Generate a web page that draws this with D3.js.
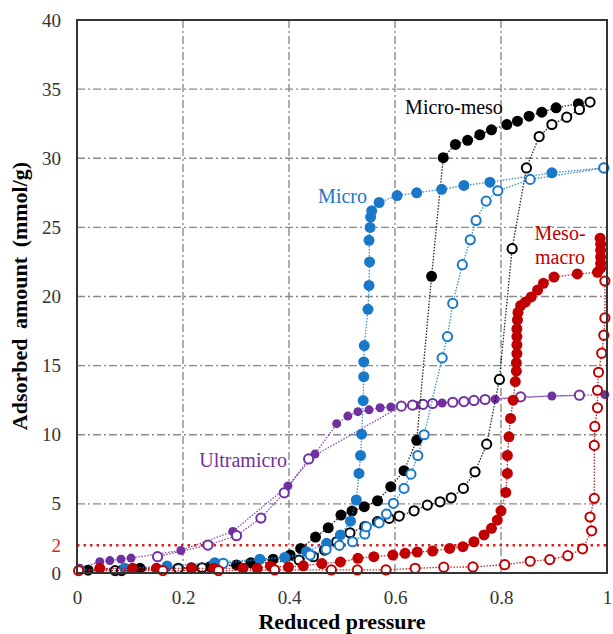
<!DOCTYPE html>
<html>
<head>
<meta charset="utf-8">
<script src="https://cdn.jsdelivr.net/npm/d3@7"></script>
<style>
  body { margin: 0; background: #fff; }
  text { font-family: "Liberation Serif", "Times New Roman", serif; }
</style>
</head>
<body>
<svg width="613" height="634"></svg>
<script>
// Reduced pressure / adsorbed amount (mmol/g)
const ultraAds = [[0.005,0.35],[0.043,0.82],[0.062,0.9],[0.083,1.0],[0.102,1.08],[0.196,1.63],[0.294,3.0],[0.398,6.3],[0.449,8.6],[0.49,10.8],[0.511,11.35],[0.53,11.67],[0.551,11.8],[0.572,11.95],[0.592,12.0],[0.639,12.14],[0.689,12.3],[0.789,12.57],[0.896,12.8],[0.996,12.9]];
const ultraDes = [[0.152,1.18],[0.247,2.02],[0.301,2.7],[0.347,3.97],[0.391,5.8],[0.437,8.25],[0.612,12.07],[0.633,12.14],[0.653,12.2],[0.671,12.26],[0.709,12.35],[0.73,12.4],[0.749,12.48],[0.77,12.55],[0.837,12.74],[0.948,12.86]];

const microAds = [[0.005,0.2],[0.09,0.35],[0.17,0.5],[0.26,0.75],[0.345,1.0],[0.392,1.13],[0.433,1.54],[0.471,2.15],[0.497,2.75],[0.516,3.75],[0.527,5.28],[0.532,7.2],[0.535,8.5],[0.537,10.04],[0.54,12.47],[0.541,14.2],[0.541,15.27],[0.542,16.45],[0.549,19.07],[0.551,20.8],[0.552,22.5],[0.551,24.06],[0.553,25.0],[0.554,25.74],[0.556,26.2],[0.57,26.8],[0.604,27.3],[0.641,27.5],[0.688,27.75],[0.73,28.03],[0.779,28.27],[0.896,28.95],[0.994,29.3]];
const microDes = [[0.276,0.7],[0.44,1.3],[0.47,1.7],[0.495,2.0],[0.52,2.26],[0.543,2.82],[0.546,3.35],[0.57,3.63],[0.584,4.26],[0.597,5.04],[0.617,6.12],[0.63,7.15],[0.643,8.5],[0.655,10.0],[0.689,15.56],[0.699,17.1],[0.709,19.5],[0.727,22.3],[0.742,24.1],[0.753,25.5],[0.772,26.9],[0.794,27.65],[0.855,28.47],[0.994,29.3]];

const mmAds = [[0.021,0.2],[0.119,0.34],[0.216,0.38],[0.251,0.46],[0.301,0.58],[0.328,0.75],[0.37,1.0],[0.402,1.3],[0.422,1.78],[0.45,2.6],[0.474,3.27],[0.498,4.19],[0.519,4.48],[0.542,4.8],[0.567,5.22],[0.592,6.24],[0.617,7.4],[0.641,9.6],[0.669,21.46],[0.691,30.04],[0.714,31.0],[0.737,31.3],[0.76,31.7],[0.782,32.06],[0.811,32.44],[0.831,32.68],[0.853,33.04],[0.877,33.33],[0.904,33.65],[0.946,33.95]];
const mmDes = [[0.072,0.17],[0.084,0.17],[0.191,0.34],[0.236,0.38],[0.419,0.94],[0.446,1.18],[0.467,1.66],[0.49,2.26],[0.515,2.91],[0.543,3.35],[0.567,3.71],[0.589,3.95],[0.608,4.12],[0.636,4.5],[0.661,4.91],[0.685,5.15],[0.706,5.44],[0.729,6.12],[0.751,7.32],[0.773,9.32],[0.797,14.0],[0.821,23.46],[0.848,29.3],[0.872,31.57],[0.896,32.44],[0.924,32.97],[0.948,33.53],[0.968,34.06]];

const mmaAds = [[0.043,0.34],[0.105,0.34],[0.15,0.34],[0.216,0.34],[0.258,0.34],[0.313,0.34],[0.34,0.34],[0.365,0.5],[0.399,0.43],[0.427,0.52],[0.462,0.68],[0.497,0.8],[0.53,1.06],[0.56,1.18],[0.596,1.3],[0.619,1.42],[0.642,1.52],[0.671,1.59],[0.703,1.78],[0.728,1.9],[0.749,2.26],[0.768,2.75],[0.782,3.23],[0.793,3.83],[0.8,4.5],[0.809,5.83],[0.812,7.2],[0.812,8.5],[0.815,9.85],[0.818,11.18],[0.823,12.5],[0.827,13.85],[0.829,14.6],[0.829,15.2],[0.83,15.87],[0.83,16.5],[0.83,17.1],[0.83,17.65],[0.831,18.3],[0.832,18.85],[0.837,19.34],[0.846,19.6],[0.857,19.97],[0.869,20.47],[0.88,20.95],[0.9,21.41],[0.944,21.63],[0.982,21.75],[0.988,22.05],[0.988,22.4],[0.988,22.85],[0.988,23.34],[0.988,23.78],[0.987,24.22]];
const mmaDes = [[0.003,0.17],[0.162,0.17],[0.267,0.17],[0.373,0.22],[0.48,0.22],[0.529,0.22],[0.583,0.22],[0.638,0.34],[0.692,0.42],[0.747,0.44],[0.807,0.6],[0.855,0.85],[0.892,0.97],[0.926,1.25],[0.954,1.75],[0.971,3.05],[0.968,4.05],[0.976,5.4],[0.976,9.23],[0.977,10.6],[0.982,11.95],[0.982,13.22],[0.984,14.52],[0.99,15.9],[0.994,17.2],[0.996,18.45],[0.996,21.12]];

const xTicks = [0, 0.2, 0.4, 0.6, 0.8, 1];
const yTicks = [0, 2, 5, 10, 15, 20, 25, 30, 35, 40];
const gridX = [0.2, 0.4, 0.6, 0.8];
const gridY = [5, 10, 15, 20, 25, 30, 35];
const refLine = 2;

const series = [
  {name: "Ultramicro", color: "#7030a0", ads: ultraAds, des: ultraDes, r: 4.5, label: [287, 467, "end"]},
  {name: "Micro-meso", color: "#000000", ads: mmAds, des: mmDes, r: 5.5, label: [454, 114, "middle"]},
  {name: "Micro", color: "#1a78c8", ads: microAds, des: microDes, r: 5.5, label: [367, 203, "end"]},
  {name: "Meso-macro", color: "#c00000", ads: mmaAds, des: mmaDes, r: 5.5, label: null}
];

const svg = d3.select("svg");
const x = d3.scaleLinear().domain([0, 1]).range([77, 607]);
const y = d3.scaleLinear().domain([0, 40]).range([573, 20]);

// grid
svg.append("g").selectAll("line").data(gridY).join("line")
  .attr("x1", x(0)).attr("x2", x(1))
  .attr("y1", d => y(d)).attr("y2", d => y(d))
  .attr("stroke", "#8a8a8a").attr("stroke-width", 1.4)
  .attr("stroke-dasharray", "8,3,2,3");
svg.append("g").selectAll("line").data(gridX).join("line")
  .attr("x1", d => x(d)).attr("x2", d => x(d))
  .attr("y1", y(40)).attr("y2", y(0))
  .attr("stroke", "#8a8a8a").attr("stroke-width", 1.4)
  .attr("stroke-dasharray", "8,3,2,3");

// red 2 mmol/g reference
svg.append("line")
  .attr("x1", x(0)).attr("x2", x(1))
  .attr("y1", y(refLine)).attr("y2", y(refLine))
  .attr("stroke", "#e0201c").attr("stroke-width", 2.5)
  .attr("stroke-dasharray", "2.5,4");

// axes
const xAxis = svg.append("g").attr("transform", `translate(0,${y(0)})`)
  .call(d3.axisBottom(x).tickValues(xTicks).tickSize(0).tickPadding(18).tickFormat(d => d));
const yAxis = svg.append("g").attr("transform", `translate(${x(0)},0)`)
  .call(d3.axisLeft(y).tickValues(yTicks).tickSize(0).tickPadding(16));
[xAxis, yAxis].forEach(a => {
  a.select(".domain").remove();
  a.selectAll("text").attr("font-size", 19).attr("fill", "#333")
    .style("font-family", "Liberation Serif");
});
yAxis.selectAll("text").filter(d => d === 2).attr("fill", "#e0201c");

const line = d3.line().x(d => x(d[0])).y(d => y(d[1]));

series.forEach(s => {
  const g = svg.append("g");
  [s.ads, s.des].forEach(arr => {
    g.append("path").attr("d", line(arr)).attr("fill", "none")
      .attr("stroke", s.color).attr("stroke-width", 1.3)
      .attr("stroke-dasharray", "1.5,1.5").attr("opacity", 0.85);
  });
  g.append("g").selectAll("circle").data(s.ads).join("circle")
    .attr("cx", d => x(d[0])).attr("cy", d => y(d[1])).attr("r", s.r)
    .attr("fill", s.color);
  g.append("g").selectAll("circle").data(s.des).join("circle")
    .attr("cx", d => x(d[0])).attr("cy", d => y(d[1])).attr("r", 4.6)
    .attr("fill", "#fff").attr("stroke", s.color).attr("stroke-width", 2);
  if (s.label) {
    svg.append("text").attr("x", s.label[0]).attr("y", s.label[1])
      .attr("text-anchor", s.label[2]).attr("font-size", 20)
      .attr("fill", s.color).text(s.name);
  }
});

// Meso-macro label on two lines
const mm = svg.append("text").attr("font-size", 20).attr("fill", "#c00000")
  .attr("text-anchor", "middle");
mm.append("tspan").attr("x", 560).attr("y", 240).text("Meso-");
mm.append("tspan").attr("x", 560).attr("y", 264).text("macro");

// frame
svg.append("rect").attr("x", x(0)).attr("y", y(40))
  .attr("width", x(1) - x(0)).attr("height", y(0) - y(40))
  .attr("fill", "none").attr("stroke", "#333").attr("stroke-width", 2);

// axis titles
svg.append("text").attr("x", 342).attr("y", 629)
  .attr("text-anchor", "middle").attr("font-size", 22).attr("font-weight", "bold")
  .text("Reduced pressure");
svg.append("text").attr("transform", "translate(27,296) rotate(-90)")
  .attr("text-anchor", "middle").attr("font-size", 22).attr("font-weight", "bold")
  .attr("word-spacing", 4)
  .text("Adsorbed amount (mmol/g)");
</script>
</body>
</html>
